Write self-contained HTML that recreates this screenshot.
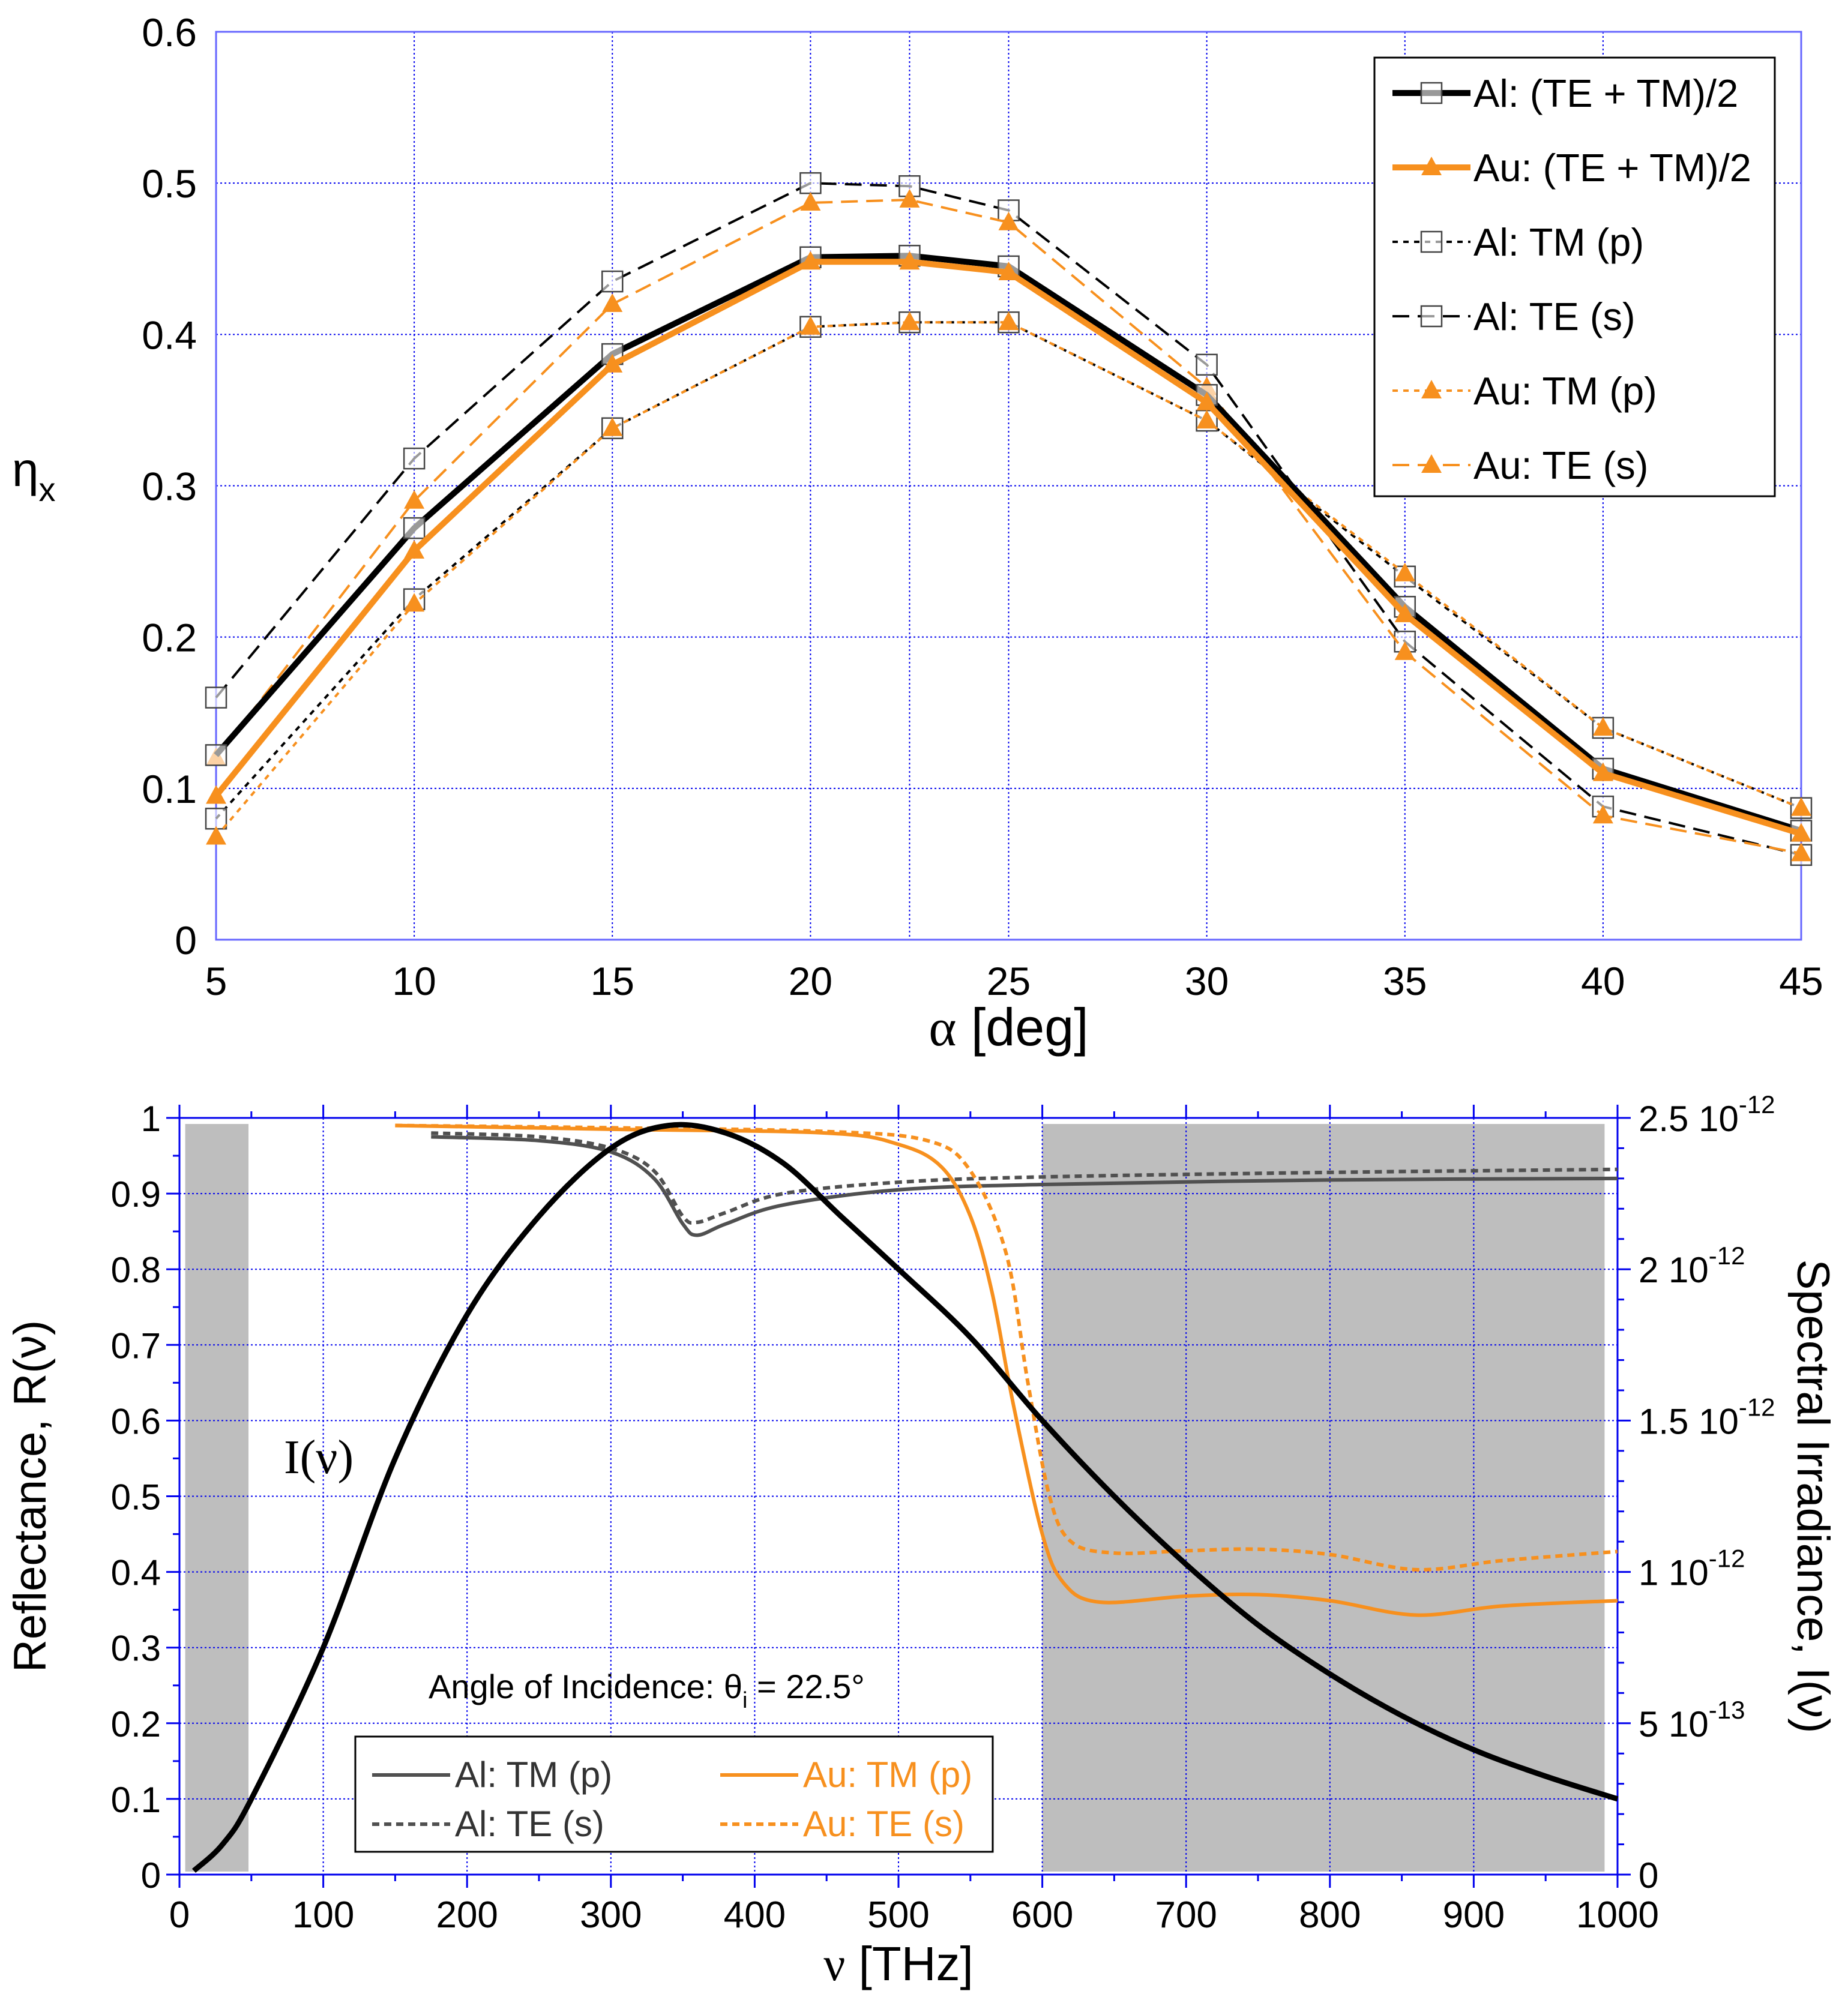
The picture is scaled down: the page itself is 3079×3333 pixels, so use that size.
<!DOCTYPE html>
<html><head><meta charset="utf-8"><style>
html,body{margin:0;padding:0;background:#fff}
svg{display:block;font-family:"Liberation Sans",sans-serif}
</style></head><body>
<svg id="s" width="3079" height="3333" viewBox="0 0 3079 3333" xmlns="http://www.w3.org/2000/svg"></svg>
<script>
// ---- Top chart data ----
const angles=[5,10,15,20,22.5,25,30,35,40,45];
const alAvg=[0.122,0.272,0.387,0.451,0.452,0.445,0.36,0.22,0.113,0.072];
const auAvg=[0.095,0.257,0.38,0.448,0.448,0.441,0.355,0.215,0.11,0.07];
const alTM=[0.08,0.225,0.338,0.405,0.408,0.408,0.343,0.24,0.14,0.087];
const alTE=[0.16,0.318,0.435,0.5,0.498,0.482,0.38,0.197,0.088,0.056];
const auTM=[0.068,0.222,0.338,0.405,0.408,0.408,0.343,0.242,0.14,0.087];
const auTE=[0.12,0.29,0.42,0.487,0.489,0.474,0.365,0.19,0.082,0.057];
const topXTicks=[5,10,15,20,25,30,35,40,45];
const topYTicks=[0,0.1,0.2,0.3,0.4,0.5,0.6];
// ---- Bottom chart data ----
const irrNu=[10,30,50,100,150,200,250,300,340,380,420,460,500,550,600,650,700,750,800,850,900,950,1000];
const irrR=[0.005,0.04,0.1,0.3,0.55,0.74,0.87,0.96,0.99,0.98,0.94,0.87,0.8,0.71,0.6,0.5,0.41,0.33,0.265,0.21,0.165,0.13,0.1];
const alTMnu=[175,250,300,330,350,360,380,420,500,600,800,1000];
const alTMr=[0.975,0.97,0.955,0.92,0.86,0.845,0.86,0.885,0.905,0.912,0.918,0.92];
const alTEnu=[175,250,300,330,350,360,380,420,500,600,800,1000];
const alTEr=[0.98,0.975,0.96,0.93,0.87,0.862,0.875,0.9,0.915,0.922,0.928,0.932];
const auTMnu=[150,300,450,500,530,550,565,580,600,615,640,700,750,800,860,920,1000];
const auTMr=[0.99,0.985,0.98,0.965,0.935,0.87,0.77,0.62,0.45,0.385,0.36,0.368,0.37,0.362,0.343,0.355,0.362];
const auTEnu=[150,300,450,520,550,575,590,605,620,650,700,750,800,860,920,1000];
const auTEr=[0.99,0.987,0.982,0.97,0.93,0.82,0.65,0.5,0.44,0.425,0.428,0.43,0.423,0.403,0.415,0.427];
const botXTicks=[0,100,200,300,400,500,600,700,800,900,1000];
const botYTicks=[0,0.1,0.2,0.3,0.4,0.5,0.6,0.7,0.8,0.9,1];
const rightTicks=["0","5 10|-13","1 10|-12","1.5 10|-12","2 10|-12","2.5 10|-12"];

const S=document.getElementById('s');
const NS='http://www.w3.org/2000/svg';
function el(t,a,p){const e=document.createElementNS(NS,t);for(const k in a)e.setAttribute(k,a[k]);(p||S).appendChild(e);return e;}
function txt(x,y,s,size,anchor,extra){const e=el('text',Object.assign({x:x,y:y,'font-size':size,'text-anchor':anchor||'middle'},extra||{}));e.textContent=s;return e;}
const ORANGE='#f7901e',BLUE='#0000ee';

// ===== TOP =====
const TL=360,TR=3001,TT=53,TB=1566;
const tx=v=>TL+(v-5)/40*(TR-TL);
const ty=v=>TB-v/0.6*(TB-TT);
const gTop=el('g',{});


[...topXTicks,22.5].forEach(v=>{el('line',{x1:tx(v),x2:tx(v),y1:TT,y2:TB,stroke:BLUE,'stroke-width':2,'stroke-dasharray':'3,4'},gTop);});
topYTicks.forEach(v=>{el('line',{x1:TL,x2:TR,y1:ty(v),y2:ty(v),stroke:BLUE,'stroke-width':2,'stroke-dasharray':'3,4'},gTop);});
el('rect',{x:TL,y:TT,width:TR-TL,height:TB-TT,fill:'none',stroke:'#6666ff','stroke-width':3},gTop);
topXTicks.forEach(v=>{const t=txt(tx(v),1658,String(v),66,'middle',{});});
topYTicks.forEach(v=>{const t=txt(328,ty(v)+24,String(v===0?'0':v),66,'end',{});});
const xt=txt((TL+TR)/2,1742,'',88,'middle');xt.innerHTML='<tspan font-family="Liberation Serif">α</tspan> [deg]';

const yt=txt(20,810,'',80,'start');yt.innerHTML='η<tspan font-size="56" dy="25">x</tspan>';


function sq(x,y,p){el('rect',{x:x-17,y:y-17,width:34,height:34,fill:'#fff','fill-opacity':0.6,stroke:'#444','stroke-width':2.5},p);}
function tri(x,y,p){el('polygon',{points:`${x},${y-18} ${x+17},${y+13} ${x-17},${y+13}`,fill:ORANGE},p);}
const topSeries=[
 {n:'al-te-line',d:alTE,c:'#000',w:4,da:'28,14',m:sq},
 {n:'al-tm-line',d:alTM,c:'#000',w:4,da:'9,9',m:sq},
 {n:'au-te-line',d:auTE,c:ORANGE,w:4,da:'28,14',m:tri},
 {n:'au-tm-line',d:auTM,c:ORANGE,w:4,da:'9,9',m:tri},
 {n:'al-avg-line',d:alAvg,c:'#000',w:10,da:'',m:sq},
 {n:'au-avg-line',d:auAvg,c:ORANGE,w:10,da:'',m:tri}];
topSeries.forEach(s=>{
 const g=el('g',{},gTop);
 
 
 el('polyline',{points:angles.map((a,i)=>tx(a)+','+ty(s.d[i])).join(' '),fill:'none',stroke:s.c,'stroke-width':s.w,'stroke-dasharray':s.da},g);
 angles.forEach((a,i)=>s.m(tx(a),ty(s.d[i]),g));
});
// top legend
const lg=el('g',{});


el('rect',{x:2290,y:96,width:667,height:731,fill:'#fff',stroke:'#000','stroke-width':3},lg);
const tl=[['Al: (TE + TM)/2','#000',10,'',sq],['Au: (TE + TM)/2',ORANGE,10,'',tri],['Al: TM (p)','#000',4,'9,9',sq],['Al: TE (s)','#000',4,'28,14',sq],['Au: TM (p)',ORANGE,4,'9,9',tri],['Au: TE (s)',ORANGE,4,'28,14',tri]];
tl.forEach((e,i)=>{const y=155+i*124;
 const g=el('g',{},lg);
 
 
 el('line',{x1:2320,x2:2450,y1:y,y2:y,stroke:e[1],'stroke-width':e[2],'stroke-dasharray':e[3]},g);
 e[4](2385,y,g);
 const t=txt(2455,y+23,e[0],65,'start');g.appendChild(t);});

// ===== BOTTOM =====
const BL=299,BR=2695,BT=1863,BB=3124;
const bx=v=>BL+v/1000*(BR-BL);
const by=v=>BB-v*(BB-BT);
const gB=el('g',{});


el('rect',{x:bx(4),y:by(0.992),width:bx(48)-bx(4),height:by(0.004)-by(0.992),fill:'#bebebe'},gB);
el('rect',{x:bx(600),y:by(0.992),width:bx(991)-bx(600),height:by(0.004)-by(0.992),fill:'#bebebe'},gB);
botXTicks.slice(1,-1).forEach(v=>el('line',{x1:bx(v),x2:bx(v),y1:BT,y2:BB,stroke:BLUE,'stroke-width':2,'stroke-dasharray':'3,4'},gB));
botYTicks.slice(1,-1).forEach(v=>el('line',{x1:BL,x2:BR,y1:by(v),y2:by(v),stroke:BLUE,'stroke-width':2,'stroke-dasharray':'3,4'},gB));
el('rect',{x:BL,y:BT,width:BR-BL,height:BB-BT,fill:'none',stroke:BLUE,'stroke-width':3},gB);
for(let v=0;v<=1000;v+=50){const maj=v%100===0;const L=maj?22:11;
 el('line',{x1:bx(v),x2:bx(v),y1:BB,y2:BB+L,stroke:BLUE,'stroke-width':3},gB);
 el('line',{x1:bx(v),x2:bx(v),y1:BT,y2:BT-L,stroke:BLUE,'stroke-width':3},gB);}
for(let v=0;v<=1.0001;v+=0.05){const maj=Math.round(v*100)%10===0;const L=maj?22:11;
 el('line',{x1:BL-L,x2:BL,y1:by(v),y2:by(v),stroke:BLUE,'stroke-width':3},gB);}
for(let k=0;k<=25;k++){const v=k/25;const L=k%5===0?22:11;
 el('line',{x1:BR,x2:BR+L,y1:by(v),y2:by(v),stroke:BLUE,'stroke-width':3},gB);}
botXTicks.forEach(v=>{const t=txt(bx(v),3212,String(v),62,'middle');});
botYTicks.forEach(v=>{const t=txt(268,by(v)+22,String(v),60,'end');});
rightTicks.forEach((s,i)=>{const p=s.split('|');const t=txt(2730,by(i/5)+22,'',60,'start');
 t.innerHTML=p[0]+(p[1]?'<tspan font-size="42" dy="-30">'+p[1]+'</tspan>':'');
 });
const bxt=txt((BL+BR)/2,3300,'',80,'middle');bxt.innerHTML='<tspan font-family="Liberation Serif">ν</tspan> [THz]';

const byt=txt(0,0,'Reflectance, R(ν)',76,'middle',{transform:`translate(76,${(BT+BB)/2}) rotate(-90)`});

const ryt=txt(0,0,'Spectral Irradiance, I(ν)',76,'middle',{transform:`translate(2995,${(BT+BB)/2}) rotate(90)`});

function smooth(P){let d='M'+P[0][0]+','+P[0][1];
 for(let i=0;i<P.length-1;i++){const p0=P[i-1]||P[i],p1=P[i],p2=P[i+1],p3=P[i+2]||p2;
  const c1=[p1[0]+(p2[0]-p0[0])/6,p1[1]+(p2[1]-p0[1])/6],c2=[p2[0]-(p3[0]-p1[0])/6,p2[1]-(p3[1]-p1[1])/6];
  d+=` C${c1[0]},${c1[1]} ${c2[0]},${c2[1]} ${p2[0]},${p2[1]}`;}
 return d;}
function line(nu,r,c,w,da,name){const e=el('path',{d:smooth(nu.map((v,i)=>[bx(v),by(r[i])])),fill:'none',stroke:c,'stroke-width':w,'stroke-dasharray':da,'stroke-linejoin':'round'},gB);
 }
line(alTMnu,alTMr,'#505050',6,'','al-tm-curve');
line(alTEnu,alTEr,'#505050',6,'12,8','al-te-curve');
line(auTMnu,auTMr,ORANGE,6,'','au-tm-curve');
line(auTEnu,auTEr,ORANGE,6,'12,8','au-te-curve');
line(irrNu,irrR,'#000',9,'','irradiance-curve');
const il=txt(473,2455,'I(ν)',80,'start',{'font-family':'Liberation Serif'});

const an=txt(714,2830,'',56,'start');an.innerHTML='Angle of Incidence: θ<tspan font-size="38" dy="16">i</tspan><tspan dy="-16"> = 22.5°</tspan>';

const bl=el('g',{});


el('rect',{x:592,y:2894,width:1062,height:192,fill:'#fff',stroke:'#000','stroke-width':3},bl);
[['Al: TM (p)','#505050','',620,2958,'#333'],['Al: TE (s)','#505050','12,8',620,3040,'#333'],['Au: TM (p)',ORANGE,'',1200,2958,ORANGE],['Au: TE (s)',ORANGE,'12,8',1200,3040,ORANGE]].forEach(e=>{
 const g=el('g',{},bl);
 
 
 el('line',{x1:e[3],x2:e[3]+130,y1:e[4],y2:e[4],stroke:e[1],'stroke-width':6,'stroke-dasharray':e[2]},g);
 const t=txt(e[3]+138,e[4]+20,e[0],60,'start',{fill:e[5]});g.appendChild(t);});
</script>
</body></html>
